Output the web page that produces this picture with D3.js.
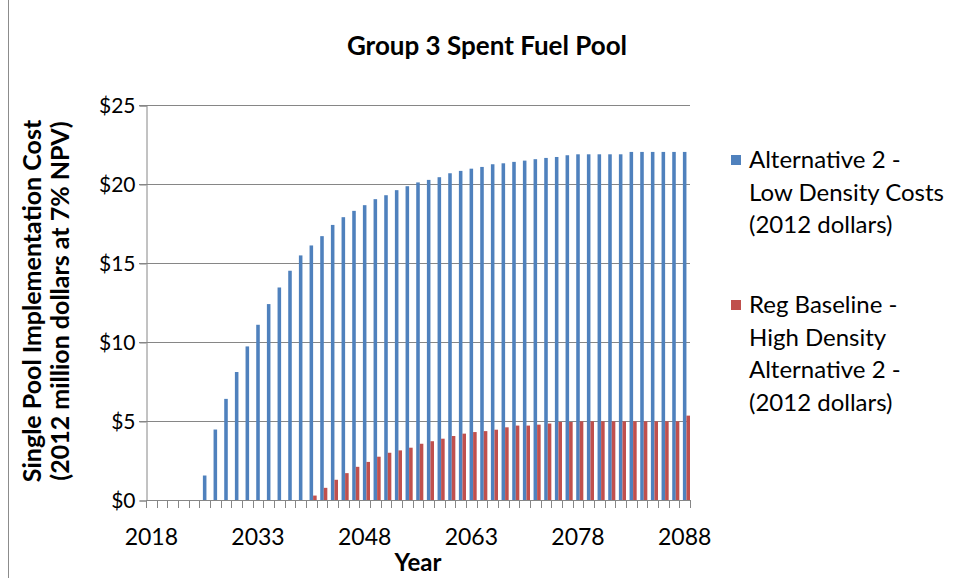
<!DOCTYPE html>
<html>
<head>
<meta charset="utf-8">
<script src="https://cdn.jsdelivr.net/npm/d3@7"></script>
<style>
  body { margin: 0; background: #fff; }
  text { font-family: Lato, "Open Sans", sans-serif; fill: #000; }
</style>
</head>
<body>
<div id="chart"></div>
<script>
// chart values, one entry per category (51 categories, labelled every 10th)
var tickLabels = ["2018", "2033", "2048", "2063", "2078", "2088"];
var labelEvery = 10;

var lowDensity = [0, 0, 0, 0, 0, 1.55, 4.46, 6.40, 8.10, 9.72,
  11.09, 12.40, 13.45, 14.51, 15.48, 16.11, 16.70, 17.41, 17.90, 18.30,
  18.66, 19.04, 19.29, 19.61, 19.86, 20.10, 20.26, 20.43, 20.68, 20.83,
  20.97, 21.08, 21.25, 21.31, 21.40, 21.48, 21.57, 21.65, 21.71, 21.82,
  21.88, 21.88, 21.88, 21.88, 21.88, 22.03, 22.03, 22.03, 22.03, 22.03, 22.03];

var highDensity = [0, 0, 0, 0, 0, 0, 0, 0, 0, 0,
  0, 0, 0, 0, 0, 0.28, 0.77, 1.28, 1.70, 2.10,
  2.41, 2.74, 2.99, 3.14, 3.31, 3.56, 3.72, 3.88, 4.05, 4.20,
  4.30, 4.36, 4.45, 4.60, 4.71, 4.71, 4.77, 4.84, 4.94, 4.94,
  4.98, 4.98, 4.98, 4.98, 4.98, 4.98, 4.98, 4.98, 4.98, 4.98, 5.34];

var yTicks = [0, 5, 10, 15, 20, 25];

var legendItems = [
  { lines: ["Alternative 2 -", "Low Density Costs", "(2012 dollars)"], color: "#4F81BD" },
  { lines: ["Reg Baseline -", "High Density", "Alternative 2 -", "(2012 dollars)"], color: "#C0504D" }
];

var svgWidth = 954;
var svgHeight = 578;
var plot = { left: 146, right: 690, top: 105, bottom: 500 };

var svg = d3.select("#chart")
  .append("svg")
  .attr("width", svgWidth)
  .attr("height", svgHeight);

// chart area border (left edge visible)
svg.append("line")
  .attr("x1", 8.5).attr("x2", 8.5)
  .attr("y1", 0).attr("y2", svgHeight)
  .attr("stroke", "#8c8c8c");

var x = d3.scaleBand()
  .domain(d3.range(lowDensity.length))
  .range([plot.left, plot.right])
  .paddingInner(0)
  .paddingOuter(0);

var y = d3.scaleLinear()
  .domain([0, 25])
  .range([plot.bottom, plot.top]);

var barW = x.bandwidth() / 3;

// gridlines
svg.append("g")
  .selectAll("line")
  .data(yTicks.filter(d => d > 0))
  .enter()
  .append("line")
  .attr("x1", plot.left - 7)
  .attr("x2", plot.right)
  .attr("y1", d => Math.round(y(d)) + 0.5)
  .attr("y2", d => Math.round(y(d)) + 0.5)
  .attr("stroke", "#868686")
  .attr("stroke-width", 1);

// bars
svg.append("g")
  .selectAll("rect")
  .data(lowDensity)
  .enter()
  .append("rect")
  .attr("x", (d, i) => x(i) + barW)
  .attr("width", barW)
  .attr("y", d => y(d))
  .attr("height", d => y(0) - y(d))
  .attr("fill", "#4F81BD");

svg.append("g")
  .selectAll("rect")
  .data(highDensity)
  .enter()
  .append("rect")
  .attr("x", (d, i) => x(i) + 2 * barW)
  .attr("width", barW)
  .attr("y", d => y(d))
  .attr("height", d => y(0) - y(d))
  .attr("fill", "#C0504D");

// y axis
var leftAxis = d3.axisLeft(y)
  .tickValues(yTicks)
  .tickSize(7)
  .tickPadding(4)
  .tickFormat(d => "$" + d);

var yAxis = svg.append("g")
  .attr("transform", `translate(${plot.left + 0.5}, 0.5)`)
  .call(leftAxis);
yAxis.select(".domain").attr("stroke", "#868686");
yAxis.selectAll(".tick line").attr("stroke", "#868686");
yAxis.selectAll(".tick text")
  .attr("font-family", "Lato, sans-serif")
  .attr("font-size", 21)
  .attr("fill", "#000");

// x axis: ticks at category boundaries, labels every 10th category
var boundaries = d3.range(lowDensity.length + 1);
var xb = d3.scaleLinear()
  .domain([0, lowDensity.length])
  .range([plot.left, plot.right]);

var xAxis = svg.append("g").attr("class", "x-axis");
xAxis.append("line")
  .attr("x1", plot.left).attr("x2", plot.right)
  .attr("y1", plot.bottom + 0.5).attr("y2", plot.bottom + 0.5)
  .attr("stroke", "#868686");
xAxis.selectAll("line.tick")
  .data(boundaries)
  .enter()
  .append("line")
  .attr("class", "tick")
  .attr("x1", d => Math.round(xb(d)) + 0.5)
  .attr("x2", d => Math.round(xb(d)) + 0.5)
  .attr("y1", plot.bottom)
  .attr("y2", plot.bottom + 8)
  .attr("stroke", "#868686");
xAxis.selectAll("text")
  .data(tickLabels)
  .enter()
  .append("text")
  .attr("x", (d, i) => x(i * labelEvery) + x.bandwidth() / 2)
  .attr("y", 545)
  .attr("text-anchor", "middle")
  .attr("font-size", 23)
  .text(d => d);

// titles
svg.append("text")
  .attr("x", 487)
  .attr("y", 55)
  .attr("text-anchor", "middle")
  .attr("font-weight", "bold")
  .attr("font-size", 26)
  .text("Group 3 Spent Fuel Pool");

svg.append("text")
  .attr("x", (plot.left + plot.right) / 2)
  .attr("y", 571)
  .attr("text-anchor", "middle")
  .attr("font-weight", "bold")
  .attr("font-size", 24)
  .text("Year");

var yTitle = svg.append("g")
  .attr("transform", "translate(0, 301) rotate(-90)");
yTitle.append("text")
  .attr("x", 0).attr("y", 41)
  .attr("text-anchor", "middle")
  .attr("font-weight", "bold")
  .attr("font-size", 25)
  .text("Single Pool Implementation Cost");
yTitle.append("text")
  .attr("x", 0).attr("y", 69)
  .attr("text-anchor", "middle")
  .attr("font-weight", "bold")
  .attr("font-size", 25)
  .text("(2012 million dollars at 7% NPV)");

// legend
var legendTop = [160, 305];
var lineH = 32.6;
legendItems.forEach(function(item, k) {
  var g = svg.append("g").attr("transform", `translate(0, ${legendTop[k]})`);
  g.append("rect")
    .attr("x", 731).attr("y", -5)
    .attr("width", 10).attr("height", 10)
    .attr("fill", item.color);
  g.selectAll("text")
    .data(item.lines)
    .enter()
    .append("text")
    .attr("x", 749)
    .attr("y", (d, i) => i * lineH + 8)
    .attr("font-size", 24)
    .attr("fill", "#000")
    .text(d => d);
});
</script>
</body>
</html>
